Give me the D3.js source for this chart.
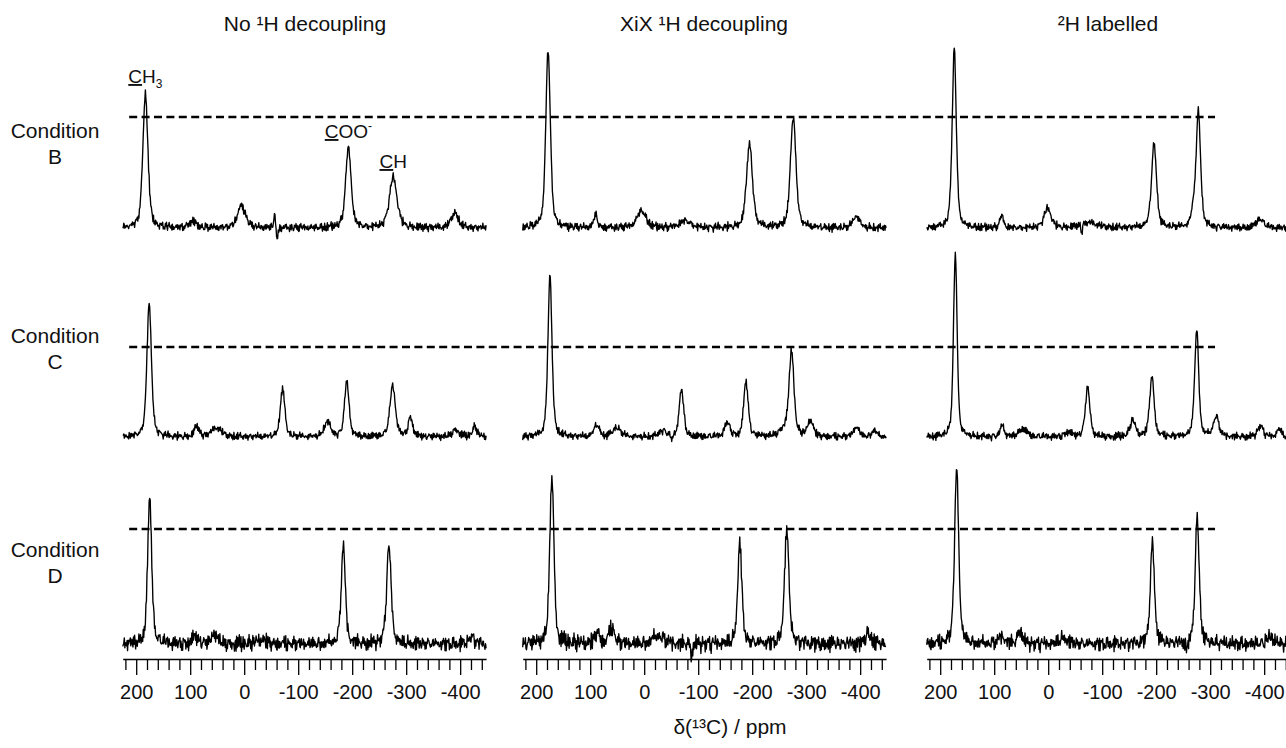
<!DOCTYPE html>
<html>
<head>
<meta charset="utf-8">
<script src="https://cdn.jsdelivr.net/npm/d3@7"></script>
<style>
    body { margin: 0; background: #fff; }
    svg text { font-family: "Liberation Sans", Arial, sans-serif; fill: #111; }
</style>
</head>
<body>
<div id="chart"></div>
<script>
'use strict';

// ---- data ----
const columnTitles = ["No \u00B9H decoupling", "XiX \u00B9H decoupling", "\u00B2H labelled"];
const conditionLabels = ["B", "C", "D"];
const ppmDomain = [225, -448];
const majorTicks = [200, 100, 0, -100, -200, -300, -400];
const minorTicks = [220, 180, 160, 140, 120, 80, 60, 40, 20, -20, -40, -60, -80, -120, -140, -160, -180,
    -220, -240, -260, -280, -320, -340, -360, -380, -420, -440];

// dashed reference level per row (intensity of the XiX CH peak)
const referenceLevel = [111, 90, 115];

// peaks per panel: [ppm, intensity, fwhm (ppm)]
const peaksB_none = [[183, 135, 11], [96, 7, 15], [5, 22, 18], [-56, 16, 3], [-61, -13, 3],
    [-193, 80, 12], [-276, 50, 17], [-390, 15, 16]];
const peaksB_xix = [[178, 178, 10], [90, 13, 8], [5, 17, 20], [-76, 7, 25],
    [-195, 84, 13], [-276, 111, 12], [-393, 12, 14]];
const peaksB_2h = [[174, 179, 9], [86, 12, 8], [1, 19, 16], [-62, -9, 3], [-75, 5, 40],
    [-196, 84, 11], [-268, 12, 8], [-278, 116, 10], [-392, 9, 16]];

const peaksC_none = [[176, 133, 10], [88, 11, 10], [51, 9, 22], [-71, 48, 10], [-154, 15, 14],
    [-190, 55, 10], [-275, 51, 12], [-308, 19, 10], [-392, 7, 16], [-427, 10, 10]];
const peaksC_xix = [[174.5, 161, 9], [88, 12, 12], [51, 9, 18], [-34, 6, 16], [-51, -7, 3],
    [-69, 47, 10], [-154, 14, 12], [-188.5, 55, 10], [-265, 10, 25], [-273, 80, 10],
    [-308, 16, 12], [-393, 10, 12], [-426, 7, 10]];
const peaksC_2h = [[172, 183, 8], [85, 12, 8], [47, 8, 18], [-37, 5, 14], [-73, 49, 10],
    [-156.5, 16, 12], [-192, 60, 10], [-275, 107, 9], [-311, 20, 12], [-393, 11, 12], [-428, 8, 10]];

const peaksD_none = [[175, 145, 9], [91, 7, 14], [54, 10, 12], [-32, 4, 20],
    [-183.5, 98, 9], [-268, 97, 10], [-421, 7, 12]];
const peaksD_xix = [[171, 170, 9], [87, 12, 10], [60, 16, 12], [-26, 8, 25], [-88, -14, 3],
    [-177, 102, 9], [-264, 112, 10], [-415, 10, 14]];
const peaksD_2h = [[169.5, 176, 9], [86, 7, 14], [52, 14, 10], [-28, 6, 18], [-257, -12, 3],
    [-193, 102, 9], [-276, 126, 9], [-412, 7, 14]];

// baseline noise amplitude per panel (row x column)
const noiseLevel = [[5.5, 5.5, 5], [5, 5, 5], [10, 11, 10]];

// fixed baseline texture, combined from two tables of different length
const noiseA = [0.3, -0.5, 0.8, -0.2, -0.9, 0.4, 0.1, -0.6, 0.7, -0.3, 0.5, -0.8, 0.2, 0.9, -0.4, -0.1,
    0.6, -0.7, 0.3, -0.2, 0.8, -0.5, -0.9, 0.4, 0.0, 0.7, -0.3, 0.5, -0.6, 0.2, -0.8, 0.9, -0.1, 0.3,
    -0.4, 0.6, -0.7, 0.1, 0.8, -0.5, 0.2, -0.9, 0.4, -0.2, 0.7, -0.6, 0.0, 0.5, -0.3, 0.9, -0.8, 0.1,
    -0.4, 0.6, -0.1, 0.3, -0.7, 0.8, -0.2, 0.4, -0.5];
const noiseB = [-0.4, 0.7, 0.1, -0.8, 0.5, -0.2, 0.9, -0.6, 0.3, -0.1, -0.7, 0.6, 0.2, -0.9, 0.4, 0.8,
    -0.3, -0.5, 0.1, 0.7, -0.8, 0.3, -0.2, 0.6, -0.4, 0.9, -0.7, 0.0, 0.5, -0.6, 0.2, 0.8, -0.1, -0.9,
    0.4, -0.3, 0.7, -0.5, 0.1, 0.6, -0.8, 0.3, 0.9, -0.2, -0.6, 0.5, -0.4, 0.2, 0.8, -0.7, 0.1, -0.3,
    0.6, -0.9, 0.4, 0.0, -0.5, 0.7, -0.1, 0.3, -0.8, 0.9, -0.4, 0.2, -0.6, 0.5, 0.1, -0.7, 0.8, -0.2,
    0.4, -0.9, 0.6, -0.3, 0.0, 0.7, -0.5, 0.3, -0.1, 0.8, -0.6, 0.2, -0.4];

// peak labels in the first panel: index into peaksB_none
const annotations = [
    { peak: 0, under: "C", text: "H", script: "3", kind: "sub" },
    { peak: 5, under: "C", text: "OO", script: "-", kind: "sup" },
    { peak: 6, under: "C", text: "H", script: "", kind: "" }
];

const panels = [
    [peaksB_none, peaksB_xix, peaksB_2h],
    [peaksC_none, peaksC_xix, peaksC_2h],
    [peaksD_none, peaksD_xix, peaksD_2h]
];

// ---- layout ----
const width = 1286, height = 748;
const colX0 = [122.7, 522.7, 926.7];
const panelWidth = 363.4;
const rowBase = [228, 437, 644];
const conditionY = [138, 343, 557];
const axisY = 659;
const titleX = [305, 704, 1108];
const fontSize = 21;

const svg = d3.select("#chart").append("svg")
    .attr("width", width)
    .attr("height", height);

const xScales = colX0.map(x0 => d3.scaleLinear().domain(ppmDomain).range([x0, x0 + panelWidth]));
const yScales = rowBase.map(b => d3.scaleLinear().domain([0, 200]).range([b, b - 200]));

// pseudo-Voigt line shape plus the baseline texture
function spectrum(peaks, amp, seed) {
    const step = 1;
    const out = [];
    let i = 0;
    for (let ppm = ppmDomain[0]; ppm >= ppmDomain[1]; ppm -= step, i++) {
        let v = 0;
        for (const [c, h, w] of peaks) {
            const t = (ppm - c) / w;
            v += h * (0.5 / (1 + 4 * t * t) + 0.5 * Math.exp(-2.7726 * t * t));
        }
        const n = (noiseA[(i + seed * 17) % noiseA.length] + noiseB[(i * 2 + seed * 29) % noiseB.length]) / 2;
        out.push({ ppm, v: v + n * amp });
    }
    return out;
}

// column titles
svg.append("g").selectAll("text")
    .data(columnTitles)
    .join("text")
    .attr("x", (d, i) => titleX[i])
    .attr("y", 31)
    .attr("text-anchor", "middle")
    .attr("font-size", fontSize)
    .text(d => d);

// condition labels
const cond = svg.append("g").selectAll("text")
    .data(conditionLabels)
    .join("text")
    .attr("text-anchor", "middle")
    .attr("font-size", fontSize);
cond.append("tspan").attr("x", 55).attr("y", (d, i) => conditionY[i]).text("Condition");
cond.append("tspan").attr("x", 55).attr("y", (d, i) => conditionY[i] + 26).text(d => d);

// dashed reference lines, running across all three columns
svg.append("g").selectAll("line")
    .data(referenceLevel)
    .join("line")
    .attr("x1", xScales[0](213))
    .attr("x2", xScales[2](-309))
    .attr("y1", (d, r) => yScales[r](d))
    .attr("y2", (d, r) => yScales[r](d))
    .attr("stroke", "#000")
    .attr("stroke-width", 2.5)
    .attr("stroke-dasharray", "8 4.4");

// spectra
const line = d3.line();
panels.forEach((row, r) => {
    row.forEach((peaks, c) => {
        const data = spectrum(peaks, noiseLevel[r][c], r * 3 + c);
        svg.append("path")
            .datum(data)
            .attr("fill", "none")
            .attr("stroke", "#000")
            .attr("stroke-width", 1.35)
            .attr("stroke-linejoin", "round")
            .attr("d", line.x(d => xScales[c](d.ppm)).y(d => yScales[r](d.v)));
    });
});

// peak labels
annotations.forEach(a => {
    const [ppm, h] = peaksB_none[a.peak];
    const t = svg.append("text")
        .attr("x", xScales[0](ppm))
        .attr("y", yScales[0](h) - 10)
        .attr("text-anchor", "middle")
        .attr("font-size", 19);
    t.append("tspan").style("text-decoration", "underline").text(a.under);
    t.append("tspan").text(a.text);
    if (a.kind === "sub") t.append("tspan").attr("font-size", 12).attr("dy", 5).text(a.script);
    if (a.kind === "sup") t.append("tspan").attr("font-size", 12).attr("dy", -8).text(a.script);
});

// axes
xScales.forEach(x => {
    const g = svg.append("g").attr("transform", `translate(0,${axisY})`);
    g.append("g")
        .call(d3.axisBottom(x).tickValues(minorTicks).tickSize(11).tickSizeOuter(0).tickFormat(""))
        .call(s => s.select(".domain").remove());
    g.append("g")
        .call(d3.axisBottom(x).tickValues(majorTicks).tickSize(16).tickSizeOuter(0)
            .tickPadding(10).tickFormat(d => String(d)))
        .call(s => s.selectAll("text").attr("font-size", 20).attr("fill", "#111")
            .style("font-family", "'Liberation Sans', Arial, sans-serif"));
    g.selectAll("line, path").attr("stroke", "#000").attr("stroke-width", 1.3);
});

// x-axis title
svg.append("text")
    .attr("x", 730)
    .attr("y", 734)
    .attr("text-anchor", "middle")
    .attr("font-size", fontSize)
    .text("\u03B4(\u00B9\u00B3C) / ppm");
</script>
</body>
</html>
